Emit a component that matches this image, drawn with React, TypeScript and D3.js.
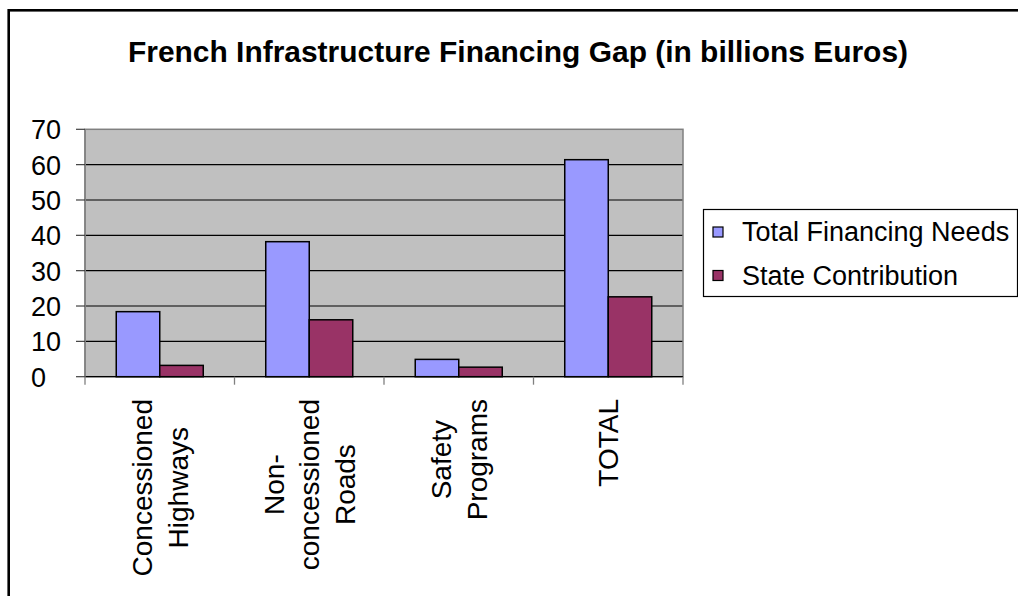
import React from "react";
import * as d3 from "d3";

const categories = ["Concessioned Highways", "Non-concessioned Roads", "Safety Programs", "TOTAL"];
const categoryLines = [["Concessioned", "Highways"], ["Non-", "concessioned", "Roads"], ["Safety", "Programs"], ["TOTAL"]];
const seriesNames = ["Total Financing Needs", "State Contribution"];
const totalNeeds = [18.4, 38.2, 4.9, 61.4];
const stateContribution = [3.2, 16.1, 2.7, 22.6];
const yTicks = [0, 10, 20, 30, 40, 50, 60, 70];
const colors = ["#9999FF", "#993366"];

const FONT = "'Liberation Sans', Arial, Helvetica, sans-serif";
const W = 1018;
const H = 596;
const plot = { left: 85, right: 683, top: 129.3, bottom: 376.7 };

function measure(text: string, font: string): number {
  const c = document.createElement("canvas");
  const ctx = c.getContext("2d");
  if (!ctx) return text.length * 14;
  ctx.font = font;
  return ctx.measureText(text).width;
}

export default function App() {
  const x0 = d3
    .scaleBand<string>()
    .domain(categories)
    .range([plot.left, plot.right])
    .paddingInner(0.418)
    .paddingOuter(0.209);
  const x1 = d3.scaleBand<number>().domain([0, 1]).range([0, x0.bandwidth()]);
  const y = d3.scaleLinear().domain([0, 70]).range([plot.bottom, plot.top]);
  const series = [totalNeeds, stateContribution];
  const step = x0.step();
  const catEdges = d3.range(categories.length + 1).map((i) => plot.left + i * step);

  const labelFontSize = 28;
  const labelFont = `${labelFontSize}px ${FONT}`;
  const lineH = 35.5;
  const labelTop = 399;

  return (
    <svg
      width={W}
      height={H}
      style={{ position: "absolute", left: 0, top: 0, background: "#fff" }}
      fontFamily={FONT}
    >
      <rect x={0} y={0} width={W} height={H} fill="#fff" />
      {/* outer frame */}
      <rect x={8.7} y={10.3} width={W + 20} height={H + 20} fill="none" stroke="#000" strokeWidth={2.6} />

      {/* title */}
      <text
        x={518}
        y={62}
        textAnchor="middle"
        fontSize={29.5}
        fontWeight="bold"
        textLength={780}
        lengthAdjust="spacingAndGlyphs"
      >
        French Infrastructure Financing Gap (in billions Euros)
      </text>

      {/* plot area */}
      <rect
        x={plot.left}
        y={plot.top}
        width={plot.right - plot.left}
        height={plot.bottom - plot.top}
        fill="#C0C0C0"
      />
      {yTicks
        .filter((t) => t > 0 && t < 70)
        .map((t) => (
          <line key={"g" + t} x1={plot.left} x2={plot.right} y1={y(t)} y2={y(t)} stroke="#000" strokeWidth={1.2} />
        ))}
      <rect
        x={plot.left}
        y={plot.top}
        width={plot.right - plot.left}
        height={plot.bottom - plot.top}
        fill="none"
        stroke="#808080"
        strokeWidth={1.5}
      />

      {/* bars */}
      {categories.map((c, ci) => (
        <g key={c}>
          {series.map((vals, si) => (
            <rect
              key={si}
              x={(x0(c) as number) + (x1(si) as number)}
              y={y(vals[ci])}
              width={x1.bandwidth()}
              height={y(0) - y(vals[ci])}
              fill={colors[si]}
              stroke="#000"
              strokeWidth={1.5}
            />
          ))}
        </g>
      ))}

      {/* axes */}
      <line x1={plot.left} x2={plot.right} y1={y(0)} y2={y(0)} stroke="#000" strokeWidth={1.3} />
      <line x1={plot.left} x2={plot.left} y1={plot.top} y2={plot.bottom} stroke="#808080" strokeWidth={1.5} />
      {yTicks.map((t) => (
        <g key={"yt" + t}>
          <line x1={76} x2={plot.left} y1={y(t)} y2={y(t)} stroke="#404040" strokeWidth={1.2} />
          <text x={31} y={y(t) + 10} fontSize={27} textAnchor="start" fill="#000">
            {t}
          </text>
        </g>
      ))}
      {catEdges.map((e, i) => (
        <line key={"xt" + i} x1={e} x2={e} y1={y(0)} y2={y(0) + 8} stroke="#808080" strokeWidth={1.3} />
      ))}

      {/* category labels */}
      {categories.map((c, ci) => {
        const lines = categoryLines[ci];
        const maxLen = Math.max(...lines.map((l) => measure(l, labelFont)));
        const yc = labelTop + maxLen / 2;
        const center = (x0(c) as number) + x0.bandwidth() / 2;
        return (
          <g key={"lab" + c}>
            {lines.map((l, li) => {
              const bx = center + (li - (lines.length - 1) / 2) * lineH + 10;
              return (
                <text
                  key={li}
                  transform={`translate(${bx}, ${yc}) rotate(-90)`}
                  textAnchor="middle"
                  fontSize={labelFontSize}
                  fill="#000"
                >
                  {l}
                </text>
              );
            })}
          </g>
        );
      })}

      {/* legend */}
      <rect x={703.5} y={209.5} width={314} height={87} fill="#fff" stroke="#000" strokeWidth={1.2} />
      {seriesNames.map((name, i) => {
        const top = 227 + i * 43.5;
        return (
          <g key={name}>
            <rect x={713} y={top} width={10} height={10} fill={colors[i]} stroke="#000" strokeWidth={1.2} />
            <text x={742} y={top + 14} fontSize={27} fill="#000">
              {name}
            </text>
          </g>
        );
      })}
    </svg>
  );
}
